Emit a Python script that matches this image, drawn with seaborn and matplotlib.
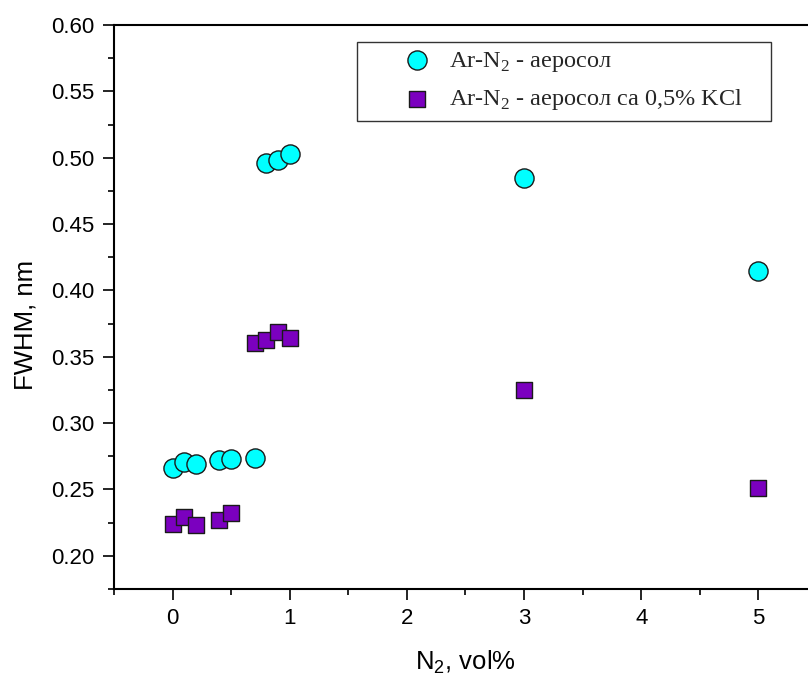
import matplotlib
matplotlib.use("Agg")
import matplotlib.pyplot as plt
import matplotlib.ticker as mticker
from matplotlib.patches import Rectangle
import seaborn as sns
import pandas as pd

# Data
n2_aerosol = [0.0, 0.1, 0.2, 0.4, 0.5, 0.7, 0.8, 0.9, 1.0, 3.0, 5.0]
fwhm_aerosol = [0.266, 0.271, 0.269, 0.272, 0.273, 0.274, 0.496, 0.498, 0.503, 0.485, 0.415]
n2_kcl = [0.0, 0.1, 0.2, 0.4, 0.5, 0.7, 0.8, 0.9, 1.0, 3.0, 5.0]
fwhm_kcl = [0.224, 0.229, 0.223, 0.227, 0.232, 0.360, 0.363, 0.369, 0.364, 0.325, 0.251]
labels = [r'Ar-N$_2$ - аеросол', r'Ar-N$_2$ - аеросол са 0,5% KCl']
x_ticks = [0, 1, 2, 3, 4, 5]
y_ticks = [0.20, 0.25, 0.30, 0.35, 0.40, 0.45, 0.50, 0.55, 0.60]

sns.set_theme(style="ticks")
plt.rcParams['font.family'] = ['Liberation Sans', 'DejaVu Sans']
plt.rcParams['mathtext.fontset'] = 'custom'
plt.rcParams['mathtext.rm'] = 'Liberation Serif'
plt.rcParams['mathtext.sf'] = 'Liberation Sans'

df1 = pd.DataFrame({'x': n2_aerosol, 'y': fwhm_aerosol})
df2 = pd.DataFrame({'x': n2_kcl, 'y': fwhm_kcl})

W, H = 808, 677
fig = plt.figure(figsize=(W / 100, H / 100), dpi=100)
ax = fig.add_axes([114 / W, 1 - 589 / H, (817 - 114) / W, (589 - 25) / H])

sns.scatterplot(data=df1, x='x', y='y', ax=ax, marker='o', s=190,
                color='#00FFFF', edgecolor='#1a1a1a', linewidth=1.0,
                label=labels[0], zorder=3)
sns.scatterplot(data=df2, x='x', y='y', ax=ax, marker='s', s=140,
                color='#7B00BF', edgecolor='#1a1a1a', linewidth=1.0,
                label=labels[1], zorder=3)

ax.set_xlim(-0.5, 5.5)
ax.set_ylim(0.175, 0.60)
ax.set_xticks(x_ticks)
ax.set_yticks(y_ticks)
ax.yaxis.set_major_formatter(mticker.FormatStrFormatter('%.2f'))
ax.xaxis.set_minor_locator(mticker.MultipleLocator(0.5))
ax.yaxis.set_minor_locator(mticker.MultipleLocator(0.025))
ax.tick_params(axis='both', which='major', direction='out', length=8, width=1.2,
               labelsize=16, color='black', labelcolor='black', pad=6)
ax.tick_params(axis='both', which='minor', direction='out', length=4.5, width=1.2,
               color='black')
for sp in ax.spines.values():
    sp.set_linewidth(1.5)
    sp.set_color('black')
    sp.set_visible(True)

ax.set_xlabel(r'N$_{\mathsf{2}}$, vol%', fontsize=18.5, color='black', labelpad=14)
ax.set_ylabel('FWHM, nm', fontsize=18.5, color='black')
ax.yaxis.set_label_coords((37 - 114) / (817 - 114), (589 - 324.5) / (589 - 25))

leg = ax.legend(loc='center left', bbox_to_anchor=(405 / W, 1 - 81 / H),
                bbox_transform=fig.transFigure, frameon=False,
                prop={'family': 'Liberation Serif', 'size': 17.5},
                borderpad=0, handlelength=1.0, handletextpad=0.8,
                labelspacing=0.55, borderaxespad=0, markerscale=1.0)
fig.add_artist(Rectangle((357 / W, 1 - 121 / H), (771 - 357) / W, (121 - 42) / H,
                         transform=fig.transFigure, fill=False,
                         edgecolor='#333333', linewidth=1.0))

fig.savefig('out.png', dpi=100)
